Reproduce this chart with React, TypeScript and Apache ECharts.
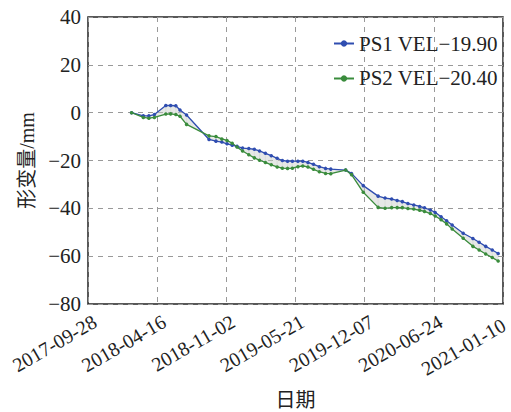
import React, { useEffect, useRef } from "react";
import * as echarts from "echarts";

const baseDate = "2017-09-28";
const dates = [
  "2018-02-01", "2018-03-07", "2018-03-23", "2018-04-08", "2018-05-11", "2018-05-25", "2018-06-09", "2018-06-21", "2018-07-10",
  "2018-09-13", "2018-10-03", "2018-10-20", "2018-11-04", "2018-11-19", "2018-12-03", "2018-12-19",
  "2019-01-06", "2019-01-22", "2019-02-06", "2019-02-23", "2019-03-12", "2019-03-29", "2019-04-13", "2019-04-28",
  "2019-05-12", "2019-05-28", "2019-06-11", "2019-06-26", "2019-07-12", "2019-07-29", "2019-08-16", "2019-08-31",
  "2019-10-13", "2019-10-30", "2019-12-03",
  "2020-01-15", "2020-02-04", "2020-02-23", "2020-03-10", "2020-03-25", "2020-04-10", "2020-04-27", "2020-05-14",
  "2020-05-28", "2020-06-14", "2020-06-28", "2020-07-15", "2020-07-31", "2020-08-16", "2020-09-17", "2020-10-15",
  "2020-11-02", "2020-11-21", "2020-12-10", "2020-12-27",
];
const ps1 = [
  0, -1.3, -1.3, -0.8, 3.0, 3.0, 2.9, 1.1, -1.0,
  -11.2, -11.9, -12.3, -13.0, -13.6, -14.1, -14.8,
  -15.0, -15.3, -16.0, -17.0, -18.0, -19.1, -20.0, -20.3,
  -20.3, -20.3, -20.3, -20.8, -21.6, -22.6, -23.3, -23.6,
  -24.0, -25.4, -30.5,
  -34.9, -35.7, -36.1, -36.7, -37.2, -38.0, -38.6, -39.2,
  -39.8, -40.7, -41.7, -43.5, -45.2, -47.0, -50.4, -52.6,
  -54.2, -55.9, -57.4, -58.9,
];
const ps2 = [
  0, -2.0, -2.3, -2.0, -0.6, -0.5, -0.8, -1.5, -4.9,
  -9.7, -10.0, -11.0, -11.6, -12.8, -14.4, -16.0,
  -17.6, -18.9, -19.9, -20.8, -21.8, -22.7, -23.2, -23.3,
  -23.2, -22.6, -22.3, -22.7, -23.7, -24.7, -25.4, -25.5,
  -24.0, -25.9, -33.3,
  -39.6, -40.0, -39.7, -39.7, -39.7, -40.1, -40.3, -40.8,
  -41.3, -42.2, -43.2, -44.8, -46.5, -48.6, -52.5, -55.9,
  -57.4, -59.1, -60.6, -62.0,
];
const seriesNames = ["PS1 VEL\u221219.90", "PS2 VEL\u221220.40"];
const yTicks = { min: -80, max: 40, interval: 20 };
const xTicks = { min: 0, max: 1200, interval: 200 };

const DAY = 86400000;
const baseMs = Date.parse(baseDate + "T00:00:00Z");
const toDay = (d: string) => Math.round((Date.parse(d + "T00:00:00Z") - baseMs) / DAY);
const fmtDay = (v: number) => new Date(baseMs + v * DAY).toISOString().slice(0, 10);
const minus = (s: string) => s.replace(/-/g, "\u2212");

const FONT = "'Liberation Serif', 'Noto Sans CJK SC', serif";

export default function App() {
  const ref = useRef<HTMLDivElement>(null);
  useEffect(() => {
    if (!ref.current) return;
    const chart = echarts.init(ref.current, null, { renderer: "svg" });
    const xs = dates.map(toDay);
    const segs = xs.slice(0, -1).map((x, i) => [x, xs[i + 1], ps1[i], ps1[i + 1], ps2[i], ps2[i + 1]]);
    const blue = "#2f4db0";
    const green = "#3a8c3c";
    const lblStyle = { fontSize: 20, color: "#222", fontFamily: FONT };
    chart.setOption({
      animation: false,
      textStyle: { fontFamily: FONT },
      grid: {
        left: 88, right: 8, top: 17, bottom: 108,
        outerBoundsMode: "none",
        containLabel: false,
        show: true, borderColor: "#222", borderWidth: 1.5,
      },
      legend: {
        orient: "vertical",
        right: 8,
        top: 28,
        itemGap: 14,
        itemWidth: 20,
        itemHeight: 8,
        data: seriesNames,
        textStyle: { fontFamily: FONT, fontSize: 21, color: "#222" },
      },
      xAxis: {
        type: "value",
        min: xTicks.min, max: xTicks.max, interval: xTicks.interval,
        name: "日期",
        nameLocation: "middle",
        nameGap: 86,
        nameTextStyle: { fontFamily: FONT, fontSize: 20, color: "#222" },
        axisLine: { show: false },
        axisTick: { show: false },
        axisLabel: {
          rotate: 30,
          fontSize: 20,
          color: "#222",
          fontFamily: FONT,
          margin: 20,
          formatter: (v: number) => (v >= xTicks.max ? `{e|${fmtDay(v)}}` : `{s|${fmtDay(v)}}`),
          rich: {
            s: { ...lblStyle, padding: [0, -8, 0, 0] },
            e: { ...lblStyle, padding: [0, -1, 0, 0] },
          },
        },
        splitLine: { show: true, lineStyle: { color: "#999", type: [5, 5], width: 1 } },
      },
      yAxis: {
        type: "value",
        min: yTicks.min, max: yTicks.max, interval: yTicks.interval,
        name: "形变量/mm",
        nameLocation: "middle",
        nameGap: 50,
        nameTextStyle: { fontFamily: FONT, fontSize: 20, color: "#222" },
        axisLine: { show: false },
        axisTick: { show: false },
        axisLabel: {
          fontSize: 21, color: "#222", fontFamily: FONT, margin: 7,
          formatter: (v: number) => minus(String(v)),
        },
        splitLine: { show: true, lineStyle: { color: "#999", type: [5, 5], width: 1 } },
      },
      series: [
        {
          name: "band",
          type: "custom",
          data: segs,
          silent: true,
          z: 1,
          renderItem: (params: any, api: any) => {
            const a = api.coord([api.value(0), api.value(2)]);
            const b = api.coord([api.value(1), api.value(3)]);
            const c = api.coord([api.value(1), api.value(5)]);
            const d = api.coord([api.value(0), api.value(4)]);
            return {
              type: "polygon",
              shape: { points: [a, b, c, d] },
              style: { fill: "rgba(200,205,200,0.45)", stroke: "rgba(200,205,200,0.45)", lineWidth: 0.5 },
            };
          },
        },
        {
          name: seriesNames[0],
          type: "line",
          data: xs.map((x, i) => [x, ps1[i]]),
          symbol: "circle",
          symbolSize: 3.5,
          color: blue,
          lineStyle: { color: blue, width: 1.3 },
          itemStyle: { color: blue },
          z: 3,
        },
        {
          name: seriesNames[1],
          type: "line",
          data: xs.map((x, i) => [x, ps2[i]]),
          symbol: "circle",
          symbolSize: 3.5,
          color: green,
          lineStyle: { color: green, width: 1.3 },
          itemStyle: { color: green },
          z: 3,
        },
      ],
    });
    return () => chart.dispose();
  }, []);
  return <div ref={ref} style={{ width: 511, height: 412, position: "absolute", left: 0, top: 0 }} />;
}
